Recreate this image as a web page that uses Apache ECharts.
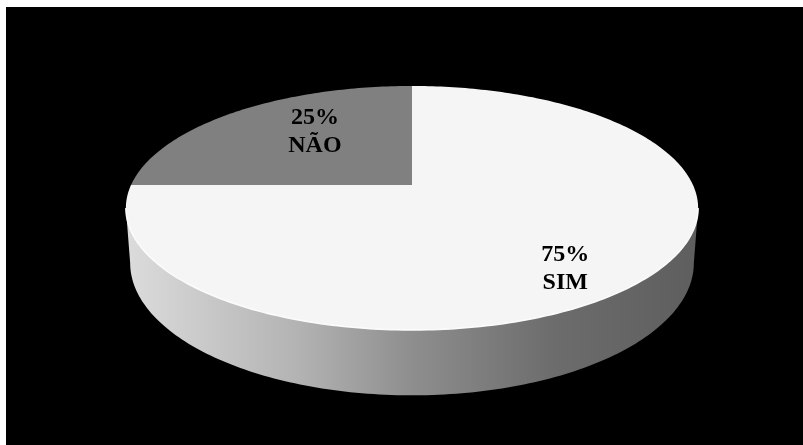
<!DOCTYPE html>
<html>
<head>
<meta charset="utf-8">
<script src="https://cdn.jsdelivr.net/npm/echarts@6/dist/echarts.min.js"></script>
<style>
  html, body { margin: 0; padding: 0; background: #ffffff; }
  #frame { position: relative; width: 803px; height: 445px; background: #ffffff; overflow: hidden; }
  #chart { position: absolute; left: 6px; top: 7px; width: 797px; height: 438px; background: #000000; }
</style>
</head>
<body>
<div id="frame"><div id="chart"></div></div>
<script>
// Answers to the survey question
const categories = ['SIM', 'NÃO'];
const values = [75, 25];

const total = values.reduce((a, b) => a + b, 0);

// Disc geometry (perspective-tilted cylinder)
const CX = 406, CY = 178;      // projected centre of the top face
const RX = 281, RY = 117.7;    // horizontal / vertical radius before perspective
const PERSP = 0.1885;          // far side shrinks, near side grows
const DEPTH = 53;              // thickness of the disc
const BOTTOM_SCALE = 0.985;    // bottom rim slightly narrower
const labelRadius = [0.79, 0.62];
const labelTurn = -7.5;        // degrees

const deg = Math.PI / 180;

function project(thetaDeg, r, depth) {
  const t = thetaDeg * deg;
  const u = r * Math.cos(t), v = r * Math.sin(t);
  const w = 1 + PERSP * v;
  const s = depth ? BOTTOM_SCALE : 1;
  return [CX + RX * u / w * s, CY - RY * v / w + (depth || 0) / w];
}

function arc(from, to, r, depth) {
  const pts = [];
  const n = Math.max(2, Math.ceil(Math.abs(to - from)));
  for (let i = 0; i <= n; i++) {
    pts.push(project(from + (to - from) * i / n, r, depth));
  }
  return pts;
}

// Front-facing part of the side wall, between the two silhouette tangents
const tangent = Math.asin(PERSP) / deg;
const frontLo = -180 + tangent, frontHi = -tangent;

function renderItem(params, api) {
  const idx = params.dataIndex;
  let before = 0;
  for (let i = 0; i < idx; i++) before += values[i];
  const val = api.value(0);
  const start = 90 - 360 * before / total;       // clockwise from 12 o'clock
  const end = 90 - 360 * (before + val) / total;
  const lo = Math.min(start, end), hi = Math.max(start, end);

  const children = [];

  // side wall
  [-360, 0, 360].forEach(function (shift) {
    const a = Math.max(lo, frontLo + shift), b = Math.min(hi, frontHi + shift);
    if (b > a) {
      const top = arc(a, b, 1, 0);
      const bottom = arc(b, a, 1, DEPTH);
      children.push({
        type: 'polygon',
        z2: 1,
        shape: { points: top.concat(bottom) },
        style: {
          fill: {
            type: 'linear', global: true,
            x: CX - RX * 1.02, y: 0, x2: CX + RX * 1.02, y2: 0,
            colorStops: [
              { offset: 0, color: '#dcdcdc' },
              { offset: 0.3, color: '#b3b3b3' },
              { offset: 0.5, color: '#8e8e8e' },
              { offset: 0.75, color: '#6c6c6c' },
              { offset: 1, color: '#5e5e5e' }
            ]
          },
          stroke: null
        }
      });
      // light rim along the front edge of the top face
      children.push({
        type: 'polyline',
        z2: 12,
        shape: { points: top },
        style: { stroke: 'rgba(255,255,255,0.95)', lineWidth: 1.5, fill: null }
      });
    }
  });

  // top face
  const face = [[CX, CY]].concat(arc(start, end, 1, 0));
  children.push({
    type: 'polygon',
    z2: 10,
    shape: { points: face },
    style: { fill: api.visual('color'), stroke: null }
  });

  // label
  const mid = (start + end) / 2 + labelTurn;
  const p = project(mid, labelRadius[idx] || 0.7, 0);
  children.push({
    type: 'text',
    z2: 20,
    x: p[0], y: p[1],
    style: {
      text: val + '%\n' + categories[idx],
      fill: '#000000',
      font: 'bold 24px "Liberation Serif", "Times New Roman", serif',
      lineHeight: 28,
      align: 'center',
      verticalAlign: 'middle'
    }
  });

  return { type: 'group', children: children };
}

const chart = echarts.init(document.getElementById('chart'), null, { renderer: 'canvas' });
chart.setOption({
  backgroundColor: '#000000',
  animation: false,
  series: [{
    type: 'custom',
    coordinateSystem: 'none',
    renderItem: renderItem,
    data: values.map(function (v, i) {
      return {
        name: categories[i],
        value: [v],
        itemStyle: { color: i === 0 ? '#f5f5f5' : '#808080' }
      };
    })
  }]
});
</script>
</body>
</html>
